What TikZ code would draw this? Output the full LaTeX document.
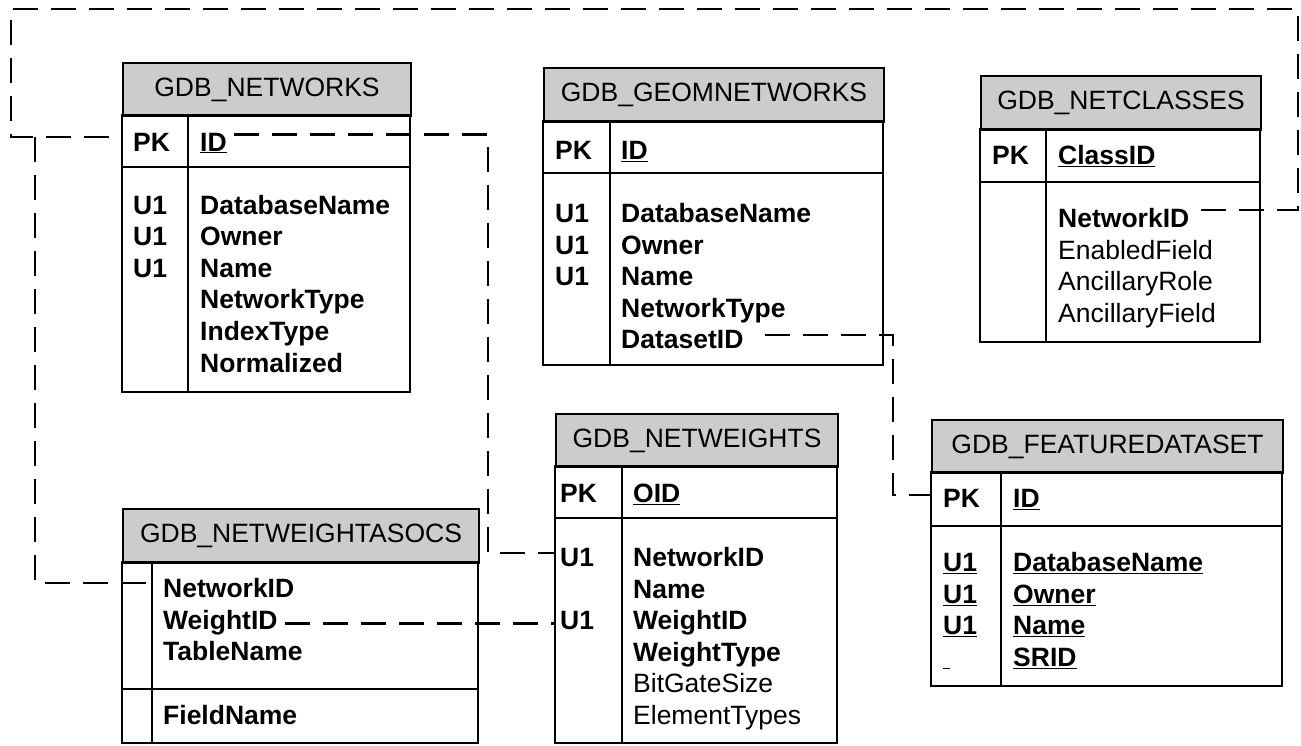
\documentclass[tikz,border=0pt]{standalone}
\usepackage{fontspec}
\setmainfont{Liberation Sans}
\usetikzlibrary{calc}
\definecolor{headgray}{RGB}{204,204,204}
\tikzset{
  tabline/.style={line width=2pt},
  tabhead/.style={draw, fill=headgray, line width=2pt, inner sep=0pt, anchor=north west,
    font=\fontsize{26.5}{31.6}\selectfont},
  cell/.style={anchor=base west, inner sep=0pt, font=\fontsize{26.5}{31.6}\selectfont\bfseries},
  cellreg/.style={anchor=base west, inner sep=0pt, font=\fontsize{26.5}{31.6}\selectfont},
  rel/.style={line width=2.8pt, dash pattern=on 25pt off 13pt},
}
\begin{document}
\begin{tikzpicture}[x=1pt,y=1pt,yscale=-1]
\useasboundingbox (0,0) rectangle (1301,745);

% GDB_NETWORKS
\node[tabhead, minimum width=288pt, minimum height=53pt] (nw) at (122,62) {GDB\_NETWORKS};
\draw[tabline] (122,115) rectangle (410,167);
\draw[tabline] (122,167) rectangle (410,392);
\draw[tabline] (188,115) -- (188,392);
\node[cell] (nw-pk) at (133,151) {PK};
\node[cell] (nw-id) at (200,151) {\underline{ID}};
\foreach \i in {1,2,3}
  \node[cell] (nw-k\i) at (133,{182.4+31.6*\i}) {U1};
\foreach \f [count=\i] in {DatabaseName,Owner,Name,NetworkType,IndexType,Normalized}
  \node[cell] (nw-f\i) at (200,{182.4+31.6*\i}) {\f};

% GDB_GEOMNETWORKS
\node[tabhead, minimum width=340pt, minimum height=54pt] (gn) at (543,67) {GDB\_GEOMNETWORKS};
\draw[tabline] (543,121) rectangle (883,173);
\draw[tabline] (543,173) rectangle (883,365);
\draw[tabline] (610,121) -- (610,365);
\node[cell] (gn-pk) at (555,159.5) {PK};
\node[cell] (gn-id) at (621,159.5) {\underline{ID}};
\foreach \i in {1,2,3}
  \node[cell] (gn-k\i) at (555,{190.9+31.6*\i}) {U1};
\foreach \f [count=\i] in {DatabaseName,Owner,Name,NetworkType,DatasetID}
  \node[cell] (gn-f\i) at (621,{190.9+31.6*\i}) {\f};

% GDB_NETCLASSES
\node[tabhead, minimum width=280pt, minimum height=54pt] (nc) at (980,75) {GDB\_NETCLASSES};
\draw[tabline] (980,129) rectangle (1260,182);
\draw[tabline] (980,182) rectangle (1260,342);
\draw[tabline] (1046,129) -- (1046,342);
\node[cell] (nc-pk) at (992,164.5) {PK};
\node[cell] (nc-id) at (1058,164.5) {\underline{ClassID}};
\node[cell] (nc-f1) at (1058,227.5) {NetworkID};
\foreach \f [count=\i from 2] in {EnabledField,AncillaryRole,AncillaryField}
  \node[cellreg] (nc-f\i) at (1058,{195.9+31.6*\i}) {\f};

% GDB_NETWEIGHTASOCS
\node[tabhead, minimum width=356pt, minimum height=54pt] (na) at (122,508) {GDB\_NETWEIGHTASOCS};
\draw[tabline] (122,562) rectangle (478,689);
\draw[tabline] (122,689) rectangle (478,743);
\draw[tabline] (152,562) -- (152,743);
\foreach \f [count=\i] in {NetworkID,WeightID,TableName}
  \node[cell] (na-f\i) at (163,{565.9+31.6*\i}) {\f};
\node[cell] (na-f4) at (163,724.5) {FieldName};

% GDB_NETWEIGHTS
\node[tabhead, minimum width=282pt, minimum height=53pt] (nwt) at (555,413) {GDB\_NETWEIGHTS};
\draw[tabline] (555,466) rectangle (837,518);
\draw[tabline] (555,518) rectangle (837,743);
\draw[tabline] (622,466) -- (622,743);
\node[cell] (nwt-pk) at (560,502.5) {PK};
\node[cell] (nwt-id) at (633,502.5) {\underline{OID}};
\node[cell] (nwt-k1) at (560,566.5) {U1};
\node[cell] (nwt-k3) at (560,629.7) {U1};
\foreach \f [count=\i] in {NetworkID,Name,WeightID,WeightType}
  \node[cell] (nwt-f\i) at (633,{534.9+31.6*\i}) {\f};
\foreach \f [count=\i from 5] in {BitGateSize,ElementTypes}
  \node[cellreg] (nwt-f\i) at (633,{534.9+31.6*\i}) {\f};

% GDB_FEATUREDATASET
\node[tabhead, minimum width=351pt, minimum height=53pt] (fd) at (931,419) {GDB\_FEATUREDATASET};
\draw[tabline] (931,472) rectangle (1282,526);
\draw[tabline] (931,526) rectangle (1282,686);
\draw[tabline] (1001,472) -- (1001,686);
\node[cell] (fd-pk) at (943,507.5) {PK};
\node[cell] (fd-id) at (1013,507.5) {\underline{ID}};
\foreach \i in {1,2,3}
  \node[cell] (fd-k\i) at (943,{539.9+31.6*\i}) {\underline{U1}};
\node[cell] (fd-k4) at (943,666.3) {\underline{\hspace*{7pt}}};
\foreach \f [count=\i] in {DatabaseName,Owner,Name,SRID}
  \node[cell] (fd-f\i) at (1013,{539.9+31.6*\i}) {\underline{\f}};

% relations
\coordinate (c-ne) at (1298,9);
\coordinate (c-nw) at (11,9);
\coordinate (c-j) at (35,137);
\coordinate (c-b) at (488,553);
\coordinate (c-d) at (893,495);

\draw[rel] ($(nc-f1.east)+(12,-8)$) -| (c-ne) -- (c-nw) |- (c-j -| nw.west);
\draw[rel] (c-j) |- ($(na-f1.west)+(-11,-5)$);
\draw[rel] ($(nw-id.east)+(7,-8)$) -| (c-b) -- (c-b -| nwt.west);
\draw[rel] ($(na-f2.east)+(7,1)$) -- ($(na-f2.east -| nwt.west)+(0,1)$);
\draw[rel] ($(gn-f5.east)+(21,-5)$) -| (c-d) -- (c-d -| fd.west);

\end{tikzpicture}
\end{document}
